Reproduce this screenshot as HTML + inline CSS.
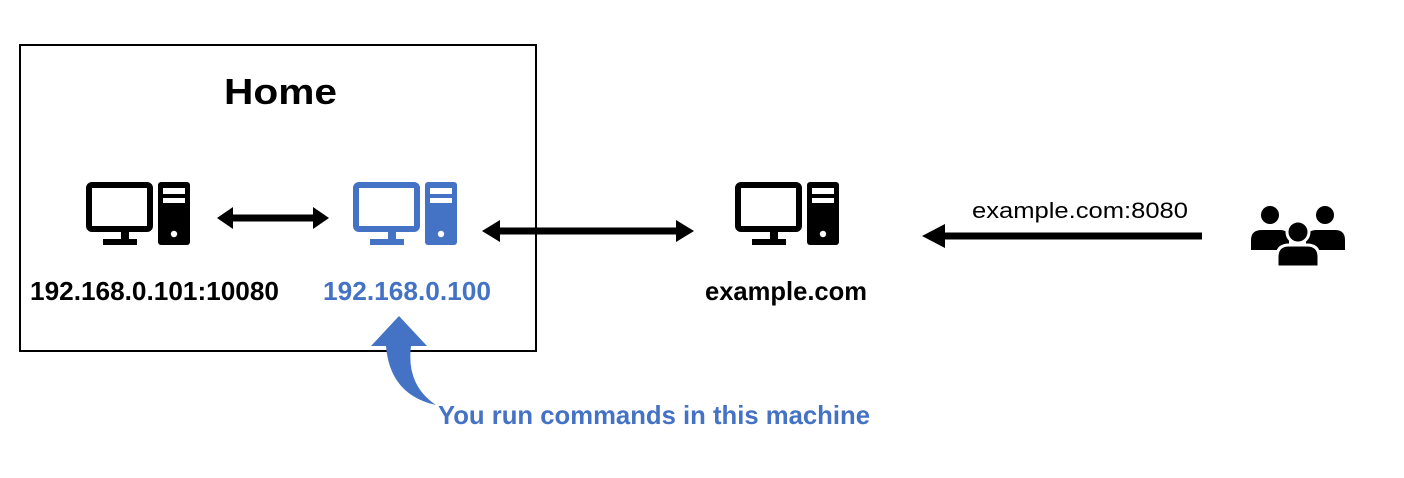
<!DOCTYPE html>
<html><head><style>
body{margin:0;background:#fff;}
svg{display:block;}
text{font-family:"Liberation Sans",sans-serif;}
</style></head><body>
<svg width="1404" height="478" viewBox="0 0 1404 478">
<defs>
<g id="pc">
<rect x="89" y="185" width="61" height="44" rx="3" fill="none" stroke="currentColor" stroke-width="6"/>
<rect x="121" y="231" width="8" height="9" fill="currentColor"/>
<rect x="103" y="239" width="34" height="6" fill="currentColor"/>
<rect x="158" y="182" width="32" height="63" rx="3" fill="currentColor"/>
<rect x="163" y="188" width="22" height="6" fill="#fff"/>
<rect x="163" y="198" width="22" height="5" fill="#fff"/>
<circle cx="174" cy="234" r="3.2" fill="#fff"/>
</g>
</defs>
<rect x="20" y="45" width="516" height="306" fill="none" stroke="#000" stroke-width="2"/>
<text x="224" y="104" font-size="36" font-weight="bold" textLength="113" lengthAdjust="spacingAndGlyphs">Home</text>
<g color="#000"><use href="#pc"/></g>
<g color="#4472c4" transform="translate(267,0)"><use href="#pc"/></g>
<g color="#000" transform="translate(649,0)"><use href="#pc"/></g>
<line x1="230" y1="218" x2="316" y2="218" stroke="#000" stroke-width="7"/>
<polygon points="217,218 233,207 233,229" fill="#000"/>
<polygon points="329,218 313,207 313,229" fill="#000"/>
<line x1="496" y1="231" x2="680" y2="231" stroke="#000" stroke-width="7"/>
<polygon points="482,231 500,220 500,242" fill="#000"/>
<polygon points="694,231 676,220 676,242" fill="#000"/>
<line x1="940" y1="236" x2="1202" y2="236" stroke="#000" stroke-width="7"/>
<polygon points="922,236 945,224 945,248" fill="#000"/>
<text x="972" y="218" font-size="22" textLength="216" lengthAdjust="spacingAndGlyphs">example.com:8080</text>
<g fill="#000">
<circle cx="1270" cy="215" r="9"/>
<path d="M1251,250 L1251,240 Q1251,230 1262,230 L1280,230 Q1289,230 1289,240 L1289,250 Z"/>
<circle cx="1325" cy="215" r="9"/>
<path d="M1306,250 L1306,240 Q1306,230 1317,230 L1335,230 Q1345,230 1345,240 L1345,250 Z"/>
<circle cx="1298" cy="232" r="11" stroke="#fff" stroke-width="3"/>
<path d="M1277,267 L1277,257 Q1277,245 1289,245 L1307,245 Q1319,245 1319,257 L1319,267 Z" stroke="#fff" stroke-width="3"/>
</g>
<text x="30" y="300" font-size="26" font-weight="bold" textLength="249" lengthAdjust="spacingAndGlyphs">192.168.0.101:10080</text>
<text x="323" y="300" font-size="26" font-weight="bold" fill="#4472c4" textLength="168" lengthAdjust="spacingAndGlyphs">192.168.0.100</text>
<text x="705" y="300" font-size="26" font-weight="bold" textLength="162" lengthAdjust="spacingAndGlyphs">example.com</text>
<path d="M371,346 L399,316 L427,346 L411,346 Q406,385 436,405 Q390,395 386,346 Z" fill="#4472c4"/>
<text x="438" y="424" font-size="26" font-weight="bold" fill="#4472c4" textLength="432" lengthAdjust="spacingAndGlyphs">You run commands in this machine</text>
</svg>
</body></html>
